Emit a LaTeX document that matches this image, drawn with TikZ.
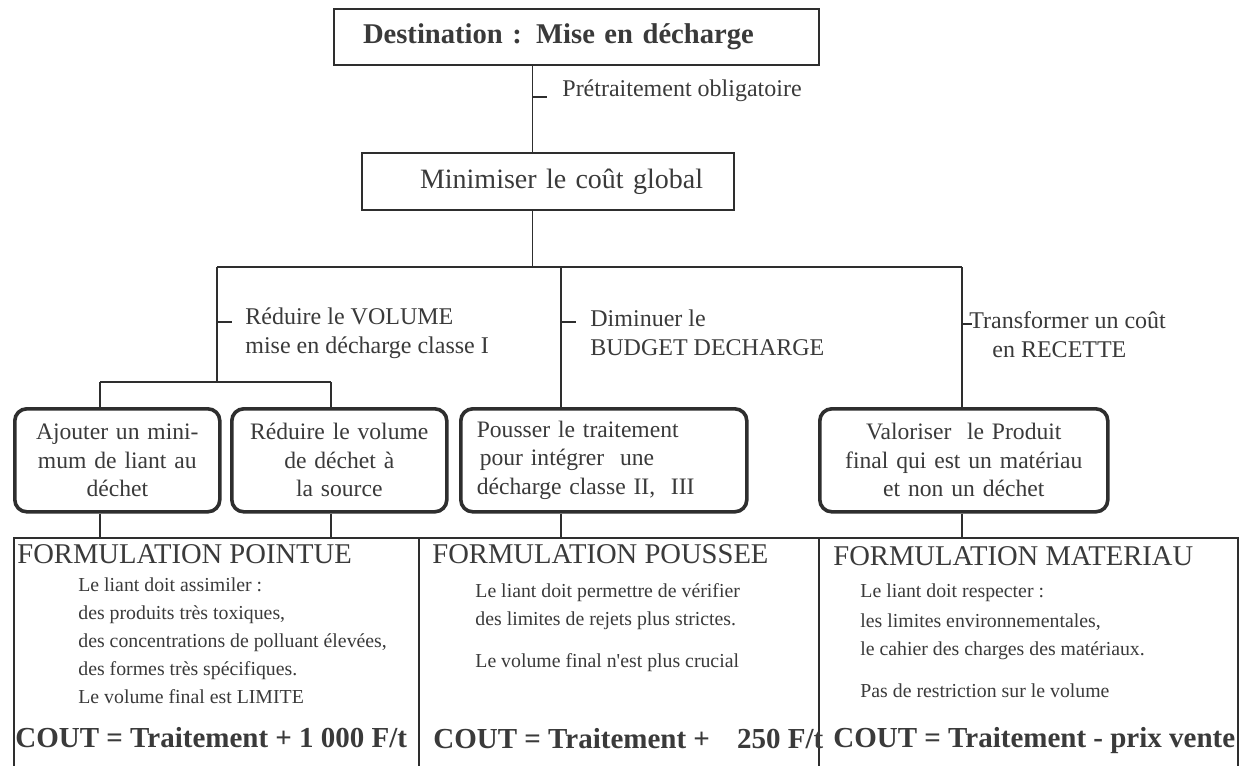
\documentclass[tikz,border=0pt]{standalone}
\usepackage{fontspec}
\setmainfont{Liberation Serif}
\usetikzlibrary{calc}
\definecolor{ink}{HTML}{2E2E2E}
\definecolor{inktext}{HTML}{3A3A3A}

\begin{document}
\begin{tikzpicture}[x=0.5pt,y=-0.5pt,
  line/.style={draw=ink, line width=0.95pt},
  squarebox/.style={draw=ink, line width=1pt, rectangle, inner sep=0pt,
    anchor=north west, text=inktext, align=left},
  roundbox/.style={draw=ink, line width=1.8pt, rounded corners=6pt,
    inner ysep=0pt, inner xsep=0pt, minimum height=51.5pt,
    anchor=north west, text=inktext,
    font=\fontsize{11.8}{14.25}\selectfont},
  colbox/.style={draw=ink, line width=0.8pt, rectangle, inner sep=0pt,
    anchor=north west, minimum height=125pt},
  lbl/.style={text=inktext, font=\fontsize{12}{14.5}\selectfont,
    align=left, anchor=west, inner sep=0pt},
  head/.style={text=inktext, font=\fontsize{14.3}{16}\selectfont,
    anchor=west, inner sep=0pt, text height=1.5ex, text depth=.25ex},
  body/.style={text=inktext, font=\fontsize{9.9}{12}\selectfont,
    anchor=west, inner sep=0pt, text height=1.5ex, text depth=.25ex},
  cost/.style={text=inktext, font=\fontsize{14.5}{16}\selectfont\bfseries,
    anchor=west, inner sep=0pt, text height=1.5ex, text depth=.25ex},
]
\useasboundingbox (0,0) rectangle (1246,765);
\fill[white] (0,0) rectangle (1246,765);
\clip (0,0) rectangle (1246,765);

% ---- top of the tree
\node[squarebox, minimum height=28pt, text width=242.5pt,
      font=\fontsize{14.3}{16}\selectfont\bfseries] (dest) at (333,8)
      {\hspace*{14.5pt}\raisebox{2.2pt}{Destination : Mise en décharge}};
\node[squarebox, minimum height=28.5pt, text width=186pt,
      font=\fontsize{14}{16}\selectfont] (goal) at (361,152)
      {\hspace*{29pt}\raisebox{-3pt}{Minimiser le coût global}};

\coordinate (xa) at (532.5,0);
\draw[line] (dest.south -| xa) -- (goal.north -| xa);
\coordinate (tickA) at (547,97);
\draw[line] (tickA -| xa) -- (tickA);
\node[lbl] (pret) at (562,91) {Prétraitement obligatoire};

% ---- main branching bar
\coordinate (busL) at (217,267);
\coordinate (busM) at (561,267);
\coordinate (busR) at (962,267);
\draw[line] (goal.south -| xa) -- (xa |- busL);
\draw[line] (busL) -- (busR);

% ---- branch labels with their ticks
\coordinate (tickL) at (232,322);
\coordinate (tickM) at (576,322);
\coordinate (tickR) at (972,324);
\draw[line] (tickL -| busL) -- (tickL);
\draw[line] (tickM -| busM) -- (tickM);
\draw[line] (tickR -| busR) -- (tickR);
\node[lbl] (lblL) at (245,333) {Réduire le VOLUME\\mise en décharge classe I};
\node[lbl] (lblM) at (590,333) {Diminuer le\\BUDGET DECHARGE};
\node[lbl] (lblR) at (969,335) {Transformer un coût\\\hspace*{11.5pt}en RECETTE};

% ---- sub-branch of the left branch
\coordinate (subL) at (100,382);
\coordinate (subR) at (331,382);
\draw[line] (busL) -- (busL |- subL);
\draw[line] (subL) -- (subR);

% ---- action boxes
\node[roundbox, text width=102.5pt, align=center] (ajout) at (13,407)
  {Ajouter un mini-\\mum de liant au\\déchet};
\node[roundbox, text width=107.5pt, align=center] (reduc) at (230,407)
  {Réduire le volume\\de déchet à\\la source};
\node[roundbox, text width=127pt, inner xsep=8pt, align=left] (pouss) at (459,407)
  {Pousser le traitement\\\hspace*{1.5pt}pour intégrer\ \ une\\décharge classe II,\ \ III};
\node[roundbox, text width=144pt, align=center] (valor) at (818,407)
  {Valoriser\ \ le Produit\\final qui est un matériau\\et non un déchet};

\draw[line] (subL) -- (subL |- ajout.north);
\draw[line] (subR) -- (subR |- reduc.north);
\draw[line] (busM) -- (busM |- pouss.north);
\draw[line] (busR) -- (busR |- valor.north);

% ---- formulation columns
\node[colbox, minimum width=202.5pt] (colA) at (13,537) {};
\node[colbox, minimum width=200pt] (colB) at (418,537) {};
\node[colbox, minimum width=209.5pt] (colC) at (818,537) {};

\draw[line] (ajout.south -| subL) -- (colA.north -| subL);
\draw[line] (reduc.south -| subR) -- (colA.north -| subR);
\draw[line] (pouss.south -| busM) -- (colB.north -| busM);
\draw[line] (valor.south -| busR) -- (colC.north -| busR);

% column A
\node[head] (hA) at (17,558) {FORMULATION POINTUE};
\node[body] (a1) at (78,586) {Le liant doit assimiler :};
\node[body] (a2) at (78,614) {des produits très toxiques,};
\node[body] (a3) at (78,642) {des concentrations de polluant élevées,};
\node[body] (a4) at (78,670) {des formes très spécifiques.};
\node[body] (a5) at (78,698) {Le volume final est LIMITE};
\node[cost] (cA) at (15,742) {COUT = Traitement + 1 000 F/t};

% column B
\node[head] (hB) at (432,558) {FORMULATION POUSSEE};
\node[body] (b1) at (475,592) {Le liant doit permettre de vérifier};
\node[body] (b2) at (475,620) {des limites de rejets plus strictes.};
\node[body] (b3) at (475,662) {Le volume final n\textquotesingle est plus crucial};
\node[cost] (cB) at (433,743) {COUT = Traitement +\hspace*{10pt} 250 F/t};

% column C
\node[head] (hC) at (833,560) {FORMULATION MATERIAU};
\node[body] (c1) at (860,592) {Le liant doit respecter :};
\node[body] (c2) at (860,622) {les limites environnementales,};
\node[body] (c3) at (860,650) {le cahier des charges des matériaux.};
\node[body] (c4) at (860,692) {Pas de restriction sur le volume};
\node[cost] (cC) at (833,742) {COUT = Traitement - prix vente};
\end{tikzpicture}
\end{document}
